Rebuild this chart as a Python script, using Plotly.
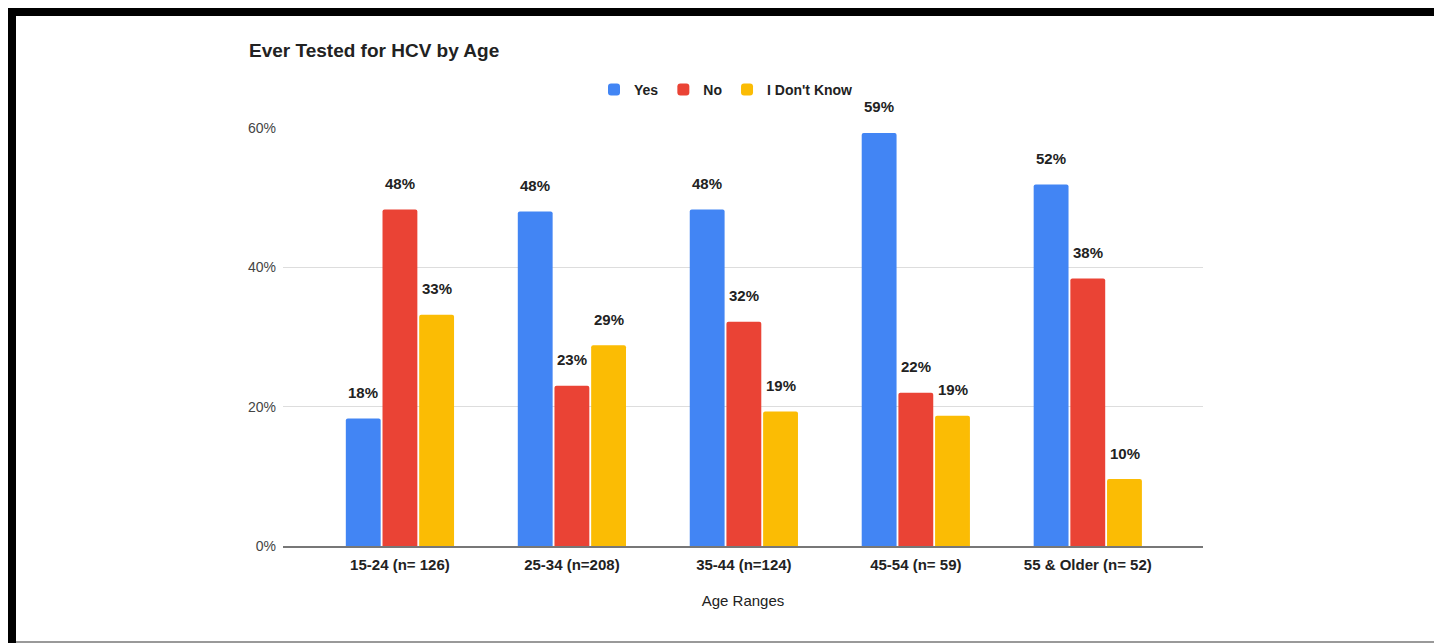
import plotly.graph_objects as go

categories = ["15-24 (n= 126)", "25-34 (n=208)", "35-44 (n=124)", "45-54 (n= 59)", "55 & Older (n= 52)"]
yes_vals = [0.183, 0.480, 0.483, 0.593, 0.519]
no_vals = [0.483, 0.230, 0.322, 0.220, 0.384]
idk_vals = [0.332, 0.288, 0.193, 0.187, 0.096]
series_names = ["Yes", "No", "I Don't Know"]
series_colors = ["#4285F4", "#EA4335", "#FBBC04"]
y_ticks = [0, 0.2, 0.4, 0.6]
y_tick_text = ["0%", "20%", "40%", "60%"]

W, H = 1434, 643
L, R, T, B = 283, 1434 - 1203, 128, 643 - 546
PW, PH = W - L - R, H - T - B
FONT = "Arial, Liberation Sans, Helvetica, sans-serif"

def px_x(px):
    return (px - L) / PW

def px_y(py):
    return (H - B - py) / PH

fig = go.Figure()
all_vals = [yes_vals, no_vals, idk_vals]
for name, vals, col in zip(series_names, all_vals, series_colors):
    fig.add_trace(go.Bar(x=categories, y=vals, name=name, marker=dict(color=col, line=dict(width=0))))

offsets = [-37, 0, 37]
annotations = []
for vals, off in zip(all_vals, offsets):
    for c, v in zip(categories, vals):
        annotations.append(dict(x=c, y=v, xref="x", yref="y", text=f"{round(v*100)}%",
                                showarrow=False, xshift=off, yshift=26, yanchor="middle",
                                font=dict(family=FONT, size=15, color="#222222", weight="bold")))

shapes = [
    dict(type="rect", xref="paper", yref="paper", x0=px_x(8), x1=px_x(1434), y0=px_y(16), y1=px_y(8),
         fillcolor="black", line=dict(width=0), layer="above"),
    dict(type="rect", xref="paper", yref="paper", x0=px_x(8), x1=px_x(16), y0=px_y(643), y1=px_y(8),
         fillcolor="black", line=dict(width=0), layer="above"),
    dict(type="line", xref="paper", yref="paper", x0=px_x(16), x1=px_x(1434), y0=px_y(642), y1=px_y(642),
         line=dict(color="#999999", width=2), layer="above"),
]

fig.update_layout(
    width=W, height=H,
    margin=dict(l=L, r=R, t=T, b=B),
    paper_bgcolor="white", plot_bgcolor="white",
    barmode="group", bargap=0.36, bargroupgap=0.05, barcornerradius=2,
    title=dict(text="Ever Tested for HCV by Age", xref="container", yref="container",
               x=249 / W, y=1 - 50 / H, xanchor="left", yanchor="middle",
               font=dict(family=FONT, size=19, color="#222222", weight="bold")),
    legend=dict(orientation="h", x=px_x(726), xanchor="center", y=px_y(90), yanchor="middle",
                font=dict(family=FONT, size=14, color="#222222", weight="bold"), traceorder="normal",
                bgcolor="rgba(0,0,0,0)", itemwidth=30),
    xaxis=dict(range=[-0.68, 4.67], showgrid=False, showline=True, linecolor="#777777", linewidth=1.5,
               ticks="", tickfont=dict(family=FONT, size=15, color="#222222", weight="bold"),
               ticklabelstandoff=4,
               title=dict(text="Age Ranges", standoff=24,
                          font=dict(family=FONT, size=15, color="#222222")),
               fixedrange=True),
    yaxis=dict(range=[0, 0.6], tickvals=y_ticks, ticktext=y_tick_text, showgrid=True, gridcolor="#dddddd",
               gridwidth=1, zeroline=False, showline=False, ticks="",
               tickfont=dict(family=FONT, size=14, color="#444444"), ticklabelstandoff=6,
               fixedrange=True),
    annotations=annotations,
    shapes=shapes,
    showlegend=True,
)

fig.write_html("out.html", config={"displayModeBar": False})
